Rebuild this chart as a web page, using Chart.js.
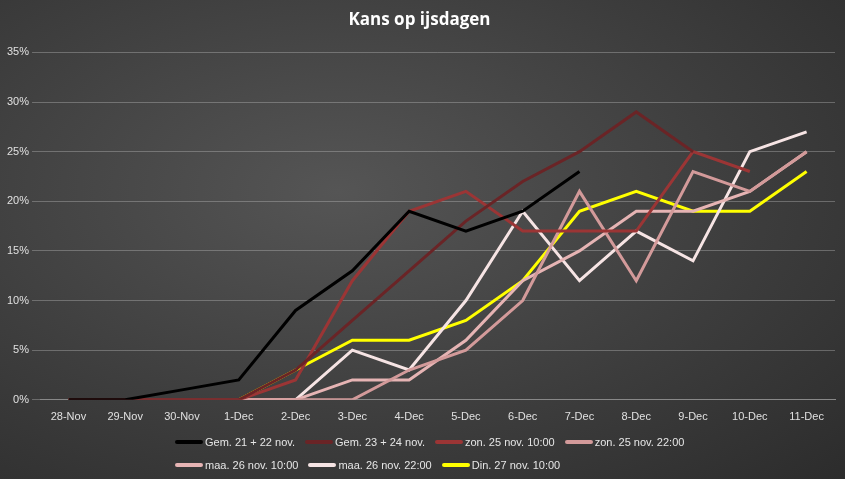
<!DOCTYPE html>
<html>
<head>
<meta charset="utf-8">
<script src="https://cdn.jsdelivr.net/npm/chart.js@4"></script>
<style>
  html, body { margin: 0; padding: 0; }
  body { width: 845px; height: 479px; background: radial-gradient(ellipse at 40% 40%, #555 0%, #3c3c3c 60%, #2c2c2c 100%); position: relative; }
  #wrap { width: 845px; height: 479px; }
  #legend { position: absolute; left: 175px; top: 430px; font: 11px 'Liberation Sans', sans-serif; color: #e6e6e6; }
  .row { height: 23px; display: flex; align-items: center; white-space: nowrap; }
  .item { display: flex; align-items: center; margin-right: 10px; }
  .sw { width: 28px; height: 4px; border-radius: 2px; margin-right: 2px; }
</style>
</head>
<body>
<div id="wrap"><canvas id="chart"></canvas></div>
<div id="legend"></div>
<script>
const days = ['28-Nov','29-Nov','30-Nov','1-Dec','2-Dec','3-Dec','4-Dec','5-Dec','6-Dec','7-Dec','8-Dec','9-Dec','10-Dec','11-Dec'];

const gem2122 = [0, 0, 1, 2, 9, 13, 19, 17, 19, 23, null, null, null, null];
const gem2324 = [0, 0, 0, 0, 3, 8, 13, 18, 22, 25, 29, 25, null, null];
const zon25a = [0, 0, 0, 0, 2, 12, 19, 21, 17, 17, 17, 25, 23, null];
const zon25b = [0, 0, 0, 0, 0, 0, 3, 5, 10, 21, 12, 23, 21, 25];
const maa26a = [0, 0, 0, 0, 0, 2, 2, 6, 12, 15, 19, 19, 21, 25];
const maa26b = [0, 0, 0, 0, 0, 5, 3, 10, 19, 12, 17, 14, 25, 27];
const din27 = [0, 0, 0, 0, 3, 6, 6, 8, 12, 19, 21, 19, 19, 23];

function line(label, data, color) {
  return { label: label, data: data, borderColor: color, backgroundColor: color,
           borderWidth: 3, pointRadius: 0, tension: 0, spanGaps: false };
}

const chart = new Chart(document.getElementById('chart'), {
  type: 'line',
  data: {
    labels: days,
    datasets: [
      line('Gem. 21 + 22 nov.', gem2122, '#000000'),
      line('Gem. 23 + 24 nov.', gem2324, '#6a2426'),
      line('zon. 25 nov. 10:00', zon25a, '#9b3535'),
      line('zon. 25 nov. 22:00', zon25b, '#d39a9a'),
      line('maa. 26 nov. 10:00', maa26a, '#e6b4b4'),
      line('maa. 26 nov. 22:00', maa26b, '#f6e4e4'),
      line('Din. 27 nov. 10:00', din27, '#ffff00')
    ]
  },
  options: {
    responsive: true,
    maintainAspectRatio: false,
    animation: false,
    layout: { padding: { left: 4, right: 10, top: 6, bottom: 52 } },
    plugins: {
      title: { display: true, text: 'Kans op ijsdagen', color: '#ffffff',
               font: { family: 'Open Sans', size: 17, weight: 'bold' }, padding: { top: 4, bottom: 22 } },
      legend: { display: false }
    },
    scales: {
      x: { offset: true, grid: { display: false }, border: { color: '#888' },
           ticks: { color: '#e0e0e0', font: { family: 'Liberation Sans', size: 11 }, maxRotation: 0 } },
      y: { min: 0, max: 35,
           grid: { color: 'rgba(200,200,200,0.35)' }, border: { display: false },
           ticks: { stepSize: 5, color: '#e0e0e0', font: { family: 'Liberation Sans', size: 11 },
                    callback: v => v + '%' } }
    }
  }
});

// legend in two rows like the original (4 + 3)
const leg = document.getElementById('legend');
const sets = chart.data.datasets;
[[0, 4], [4, 7]].forEach(([a, b]) => {
  const row = document.createElement('div');
  row.className = 'row';
  sets.slice(a, b).forEach(ds => {
    const it = document.createElement('div');
    it.className = 'item';
    const sw = document.createElement('span');
    sw.className = 'sw';
    sw.style.background = ds.borderColor;
    it.appendChild(sw);
    it.appendChild(document.createTextNode(ds.label));
    row.appendChild(it);
  });
  leg.appendChild(row);
});
</script>
</body>
</html>
